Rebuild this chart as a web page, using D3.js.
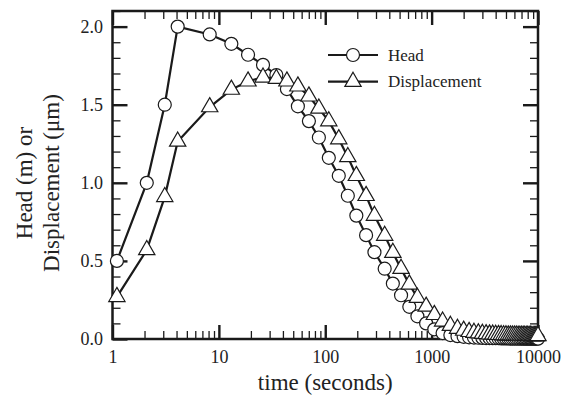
<!DOCTYPE html>
<html>
<head>
<meta charset="utf-8">
<script src="https://cdn.jsdelivr.net/npm/d3@7"></script>
<style>
body { margin: 0; background: #fff; }
svg { display: block; }
text { font-family: "Liberation Serif", "Times New Roman", serif; fill: #222; }
</style>
</head>
<body>
<svg width="564" height="401"></svg>
<script>
// time steps (seconds), shared by both series
var times = [1.1, 2.1, 3.1, 4.1, 8.2, 13.1, 18.8, 26, 34.7, 43.6, 55.3, 70.2, 87.1, 108, 134, 163, 196, 242, 290, 362,
    432, 516, 617, 735, 888, 1060, 1268, 1500, 1750, 2000, 2250, 2500, 2750, 3000, 3250, 3500, 3750, 4000, 4250, 4500,
    4750, 5000, 5250, 5500, 5750, 6000, 6250, 6500, 6750, 7000, 7250, 7500, 7750, 8000, 8250, 8500, 8750, 9000, 9250,
    9500, 9750, 10000];
var head = [0.50, 1.00, 1.50, 2.00, 1.95, 1.89, 1.82, 1.755, 1.69, 1.60, 1.49, 1.395, 1.29, 1.16, 1.045, 0.917, 0.79, 0.665, 0.556, 0.45,
    0.355, 0.28, 0.206, 0.145, 0.10, 0.062, 0.038, 0.025, 0.018, 0.014, 0.011, 0.009, 0.008, 0.007, 0.006, 0.006, 0.005, 0.005, 0.005, 0.004,
    0.004, 0.004, 0.004, 0.003, 0.003, 0.003, 0.003, 0.003, 0.003, 0.003, 0.002, 0.002, 0.002, 0.002, 0.002, 0.002, 0.002, 0.002, 0.002,
    0.002, 0.002, 0.002];
var displacement = [0.27, 0.57, 0.91, 1.265, 1.485, 1.597, 1.65, 1.675, 1.667, 1.65, 1.618, 1.554, 1.476, 1.395, 1.28, 1.166, 1.045, 0.917, 0.79, 0.662,
    0.553, 0.45, 0.35, 0.265, 0.208, 0.155, 0.113, 0.085, 0.066, 0.054, 0.046, 0.041, 0.037, 0.034, 0.032, 0.030, 0.029, 0.028, 0.027, 0.026,
    0.025, 0.025, 0.024, 0.024, 0.023, 0.023, 0.023, 0.022, 0.022, 0.022, 0.022, 0.021, 0.021, 0.021, 0.021, 0.021, 0.020, 0.020, 0.020,
    0.020, 0.020, 0.020];
var xTickLabels = ["1", "10", "100", "1000", "10000"];
var xMajor = [1, 10, 100, 1000, 10000];
var yMajor = [0, 0.5, 1.0, 1.5, 2.0];
var seriesNames = ["Head", "Displacement"];

var svg = d3.select("svg");

var x = d3.scaleLog().domain([1, 10000]).range([112.5, 538]);
var y = d3.scaleLinear().domain([0, 2.1]).range([339, 11]);

var xMinor = x.ticks().filter(function (d) { return xMajor.indexOf(d) < 0; });
var yMinor = d3.range(0, 2.11, 0.1).filter(function (d) {
    return Math.abs(d * 2 - Math.round(d * 2)) > 0.01;
});

function styleAxis(g, w) {
    g.select(".domain").remove();
    g.selectAll("line").attr("stroke", "#1a1a1a").attr("stroke-width", w);
    g.selectAll("text").attr("font-size", 18).attr("fill", "#222");
}

// bottom
svg.append("g").attr("transform", "translate(0," + y(0) + ")")
    .call(d3.axisBottom(x).tickValues(xMajor).tickSize(-14).tickPadding(11)
        .tickFormat(function (d, i) { return xTickLabels[i]; }))
    .call(styleAxis, 2.4);
svg.append("g").attr("transform", "translate(0," + y(0) + ")")
    .call(d3.axisBottom(x).tickValues(xMinor).tickSize(-8).tickFormat(""))
    .call(styleAxis, 1.3);
// top
svg.append("g").attr("transform", "translate(0," + y(2.1) + ")")
    .call(d3.axisTop(x).tickValues(xMajor).tickSize(-14).tickFormat(""))
    .call(styleAxis, 2.4);
svg.append("g").attr("transform", "translate(0," + y(2.1) + ")")
    .call(d3.axisTop(x).tickValues(xMinor).tickSize(-8).tickFormat(""))
    .call(styleAxis, 1.3);
// left
svg.append("g").attr("transform", "translate(" + x(1) + ",0)")
    .call(d3.axisLeft(y).tickValues(yMajor).tickSize(-15).tickPadding(9.5).tickFormat(d3.format(".1f")))
    .call(styleAxis, 2.4);
svg.append("g").attr("transform", "translate(" + x(1) + ",0)")
    .call(d3.axisLeft(y).tickValues(yMinor).tickSize(-8).tickFormat(""))
    .call(styleAxis, 1.3);
// right
svg.append("g").attr("transform", "translate(" + x(10000) + ",0)")
    .call(d3.axisRight(y).tickValues(yMajor).tickSize(-15).tickFormat(""))
    .call(styleAxis, 2.4);
svg.append("g").attr("transform", "translate(" + x(10000) + ",0)")
    .call(d3.axisRight(y).tickValues(yMinor).tickSize(-8).tickFormat(""))
    .call(styleAxis, 1.3);

svg.append("rect")
    .attr("x", x(1)).attr("y", y(2.1))
    .attr("width", x(10000) - x(1)).attr("height", y(0) - y(2.1))
    .attr("fill", "none").attr("stroke", "#1a1a1a").attr("stroke-width", 2.5);

// series
var headData = times.map(function (t, i) { return [t, head[i]]; });
var dispData = times.map(function (t, i) { return [t, displacement[i]]; });

var line = d3.line()
    .x(function (d) { return x(d[0]); })
    .y(function (d) { return y(d[1]); });

var tri = d3.symbol().type(d3.symbolTriangle).size(115);

svg.append("path").datum(headData).attr("d", line)
    .attr("fill", "none").attr("stroke", "#1a1a1a").attr("stroke-width", 2.2);
svg.selectAll("circle.head").data(headData).enter()
    .append("circle").attr("class", "head")
    .attr("cx", function (d) { return x(d[0]); })
    .attr("cy", function (d) { return y(d[1]); })
    .attr("r", 6.5)
    .attr("fill", "#fff").attr("stroke", "#1a1a1a").attr("stroke-width", 1.2);

svg.append("path").datum(dispData).attr("d", line)
    .attr("fill", "none").attr("stroke", "#1a1a1a").attr("stroke-width", 2.2);
svg.selectAll("path.disp").data(dispData).enter()
    .append("path").attr("class", "disp")
    .attr("d", tri)
    .attr("transform", function (d) { return "translate(" + x(d[0]) + "," + y(d[1]) + ")"; })
    .attr("fill", "#fff").attr("stroke", "#1a1a1a").attr("stroke-width", 1.2);

// legend
var legend = svg.append("g");
seriesNames.forEach(function (name, i) {
    var ly = 55 + i * 26.7;
    legend.append("line").attr("x1", 328).attr("x2", 378).attr("y1", ly).attr("y2", ly)
        .attr("stroke", "#1a1a1a").attr("stroke-width", 2.2);
    if (i === 0) {
        legend.append("circle").attr("cx", 353).attr("cy", ly).attr("r", 6.5)
            .attr("fill", "#fff").attr("stroke", "#1a1a1a").attr("stroke-width", 1.2);
    } else {
        legend.append("path").attr("d", tri).attr("transform", "translate(353," + ly + ")")
            .attr("fill", "#fff").attr("stroke", "#1a1a1a").attr("stroke-width", 1.2);
    }
    legend.append("text").attr("x", 388).attr("y", ly + 5.5)
        .attr("font-size", 17).text(name);
});

// axis titles
svg.append("text")
    .attr("x", (x(1) + x(10000)) / 2).attr("y", 390)
    .attr("text-anchor", "middle").attr("font-size", 23)
    .text("time (seconds)");

svg.append("text")
    .attr("transform", "translate(32,183) rotate(-90)")
    .attr("text-anchor", "middle").attr("font-size", 23)
    .text("Head (m) or");
svg.append("text")
    .attr("transform", "translate(59,183) rotate(-90)")
    .attr("text-anchor", "middle").attr("font-size", 23)
    .text("Displacement (\u03bcm)");
</script>
</body>
</html>
